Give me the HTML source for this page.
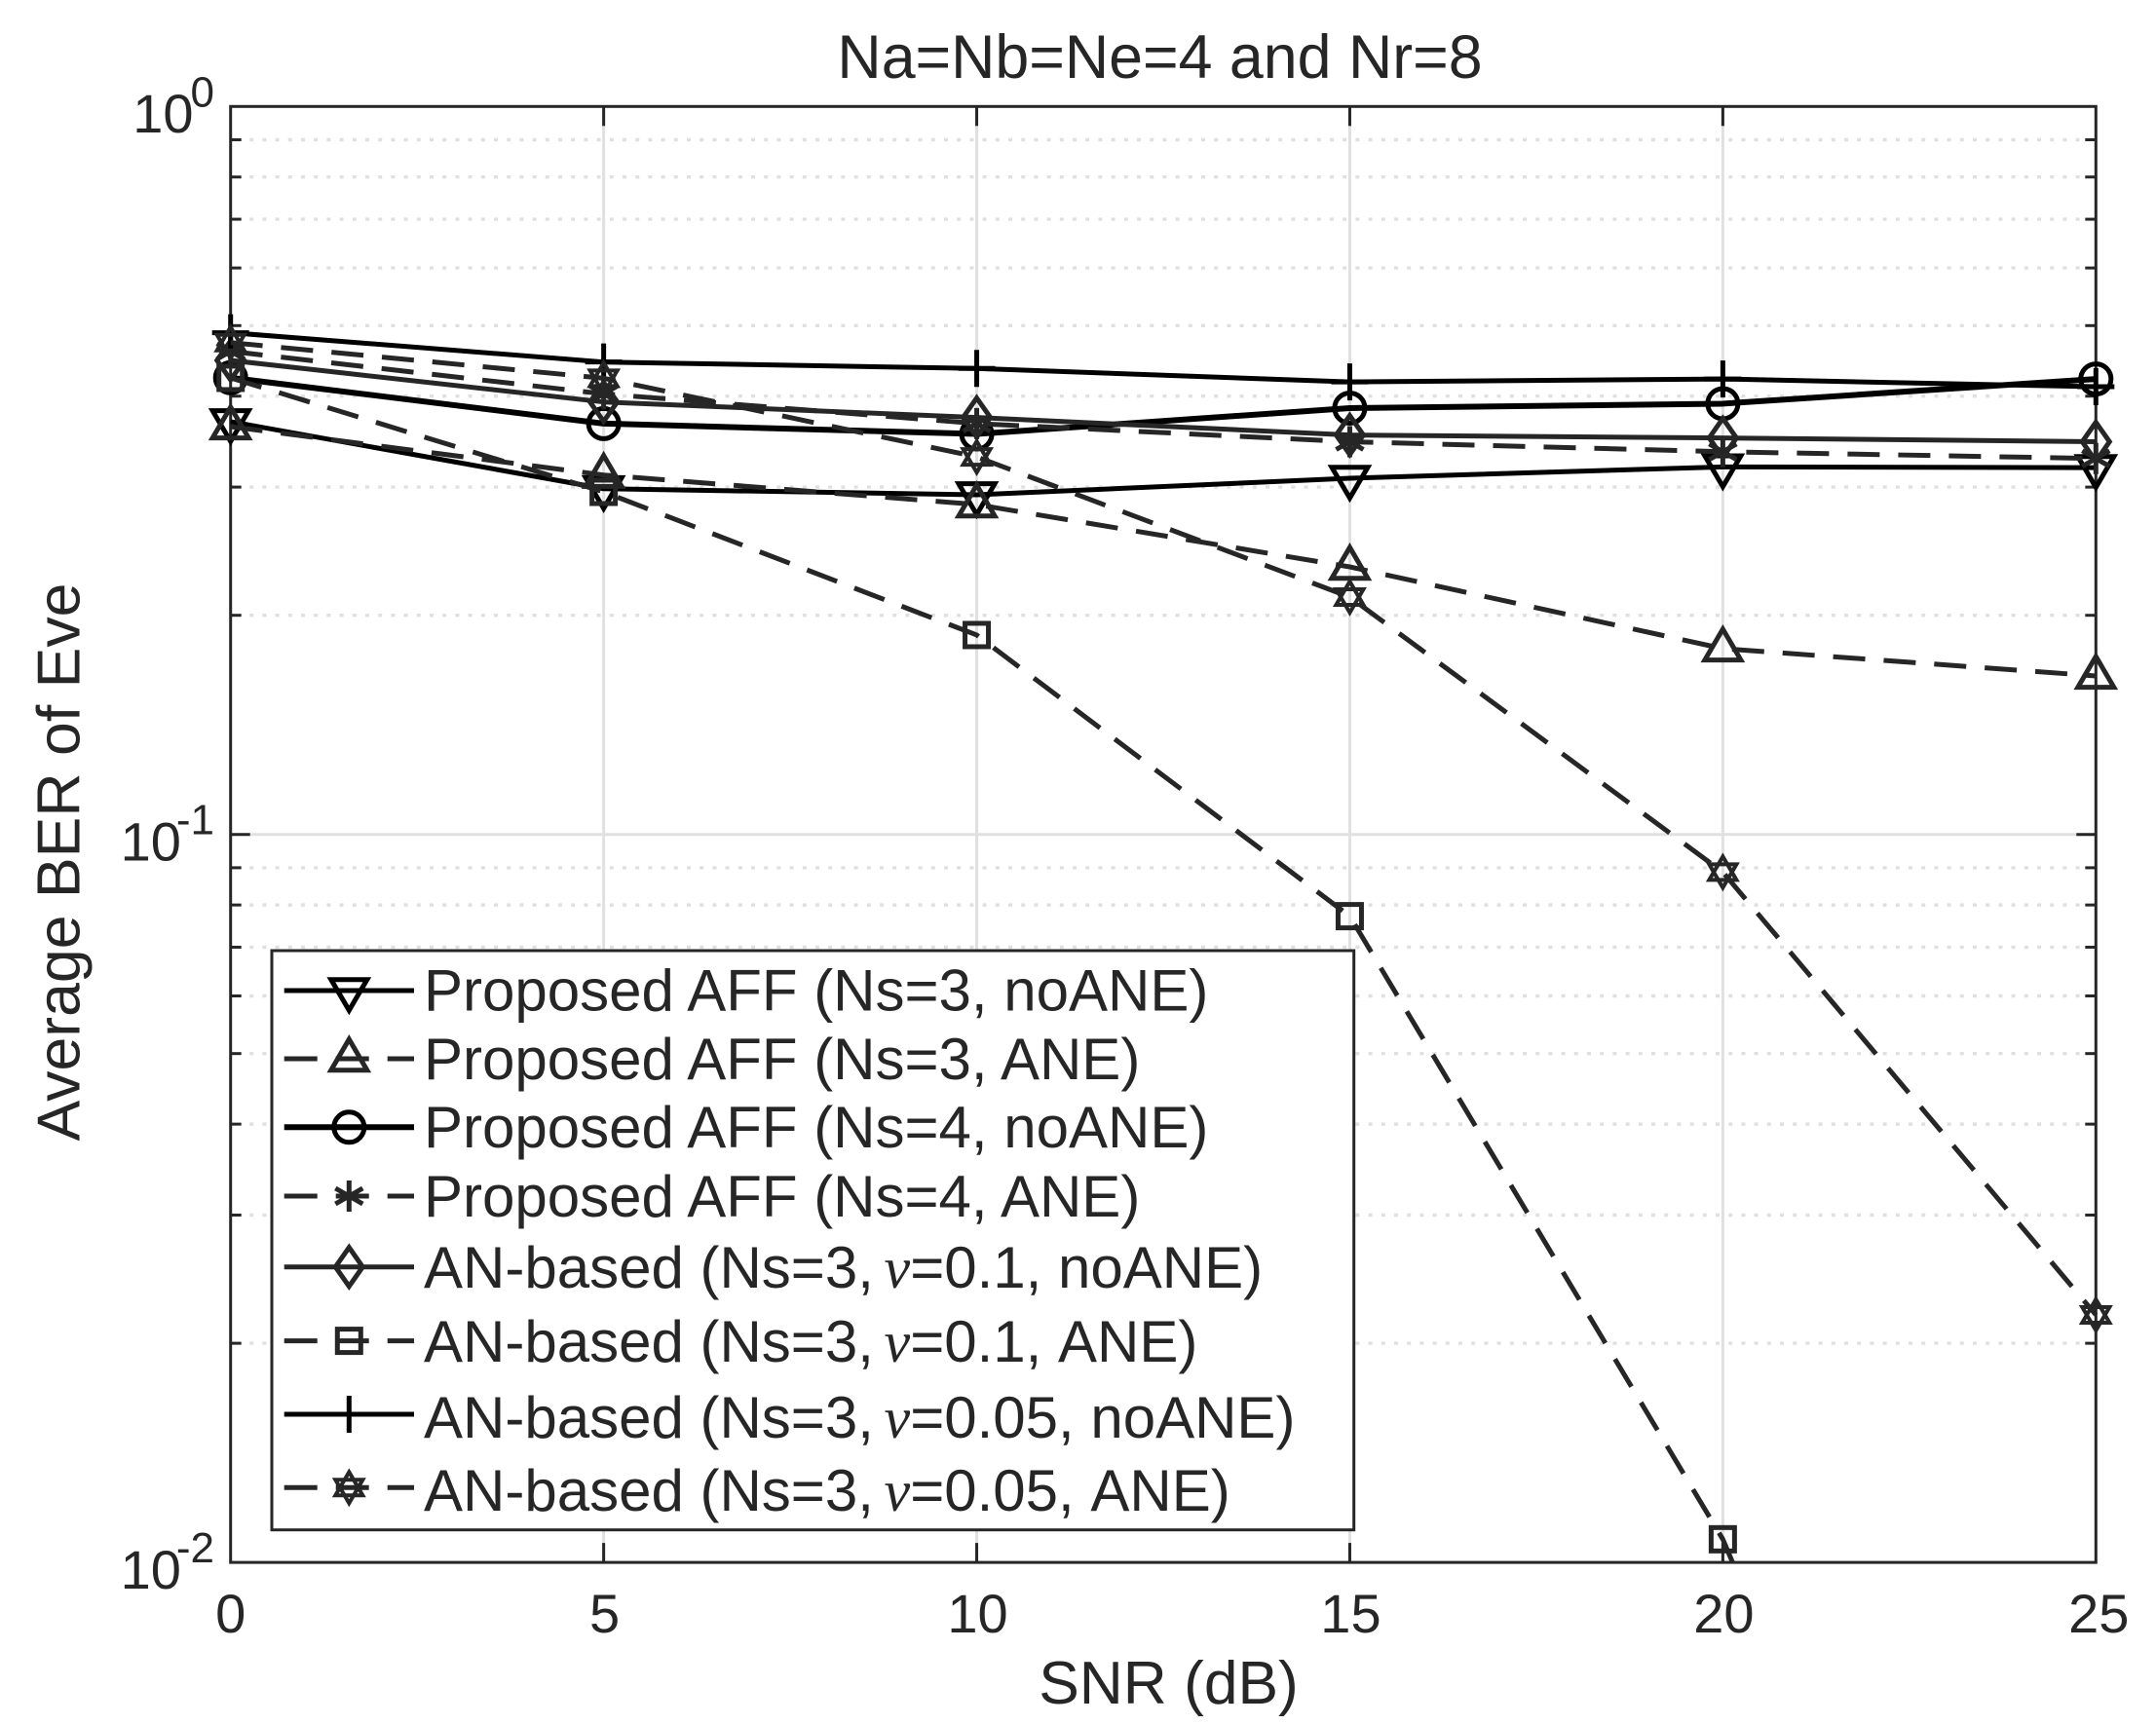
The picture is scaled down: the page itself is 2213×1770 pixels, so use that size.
<!DOCTYPE html>
<html lang="en">
<head>
<meta charset="utf-8">
<title>Average BER of Eve</title>
<style>
html,body{margin:0;padding:0;background:#fff;width:2213px;height:1770px;overflow:hidden;}
svg{display:block;}
text{font-family:"Liberation Sans",sans-serif;fill:#262626;}
.nu{font-family:"Liberation Serif",serif;font-style:italic;}
</style>
</head>
<body>
<svg id="chart" xmlns="http://www.w3.org/2000/svg" width="2213" height="1770" viewBox="0 0 2213 1770">
  <rect x="0" y="0" width="2213" height="1770" fill="#ffffff"/>
  <g id="grid"></g>
  <g id="axes"></g>
  <g id="series"></g>
  <text x="1190.5" y="80" font-size="62.7" text-anchor="middle">Na=Nb=Ne=4 and Nr=8</text>
  <text x="1199.5" y="1749" font-size="62.3" text-anchor="middle">SNR (dB)</text>
  <text transform="translate(81.7 885) rotate(-90)" font-size="62.6" text-anchor="middle">Average BER of Eve</text>
  <g id="legend">
    <rect x="279" y="976" width="1110.7" height="594.7" fill="#ffffff" stroke="#262626" stroke-width="3"/>
    <g id="legend-keys"></g>
    <g font-size="60">
      <text x="435" y="1037.7">Proposed AFF (Ns=3, noANE)</text>
      <text x="435" y="1108">Proposed AFF (Ns=3, ANE)</text>
      <text x="435" y="1178">Proposed AFF (Ns=4, noANE)</text>
      <text x="435" y="1249">Proposed AFF (Ns=4, ANE)</text>
      <text x="435" y="1322">AN-based (Ns=3, <tspan class="nu" dx="-6">ν</tspan>=0.1, noANE)</text>
      <text x="435" y="1398">AN-based (Ns=3, <tspan class="nu" dx="-6">ν</tspan>=0.1, ANE)</text>
      <text x="435" y="1476">AN-based (Ns=3, <tspan class="nu" dx="-6">ν</tspan>=0.05, noANE)</text>
      <text x="435" y="1551">AN-based (Ns=3, <tspan class="nu" dx="-6">ν</tspan>=0.05, ANE)</text>
    </g>
  </g>
</svg>
<script>
var snrValues = [0, 5, 10, 15, 20, 25];
var xTickLabels = ['0', '5', '10', '15', '20', '25'];
var yDecades = [0, -1, -2];
var yMinorFactors = [2, 3, 4, 5, 6, 7, 8, 9];

var berProposedNs3NoAne = [0.3690, 0.2985, 0.2928, 0.3085, 0.3198, 0.3191];
var berProposedNs3Ane = [0.3633, 0.3117, 0.2839, 0.2331, 0.1800, 0.1651];
var berProposedNs4NoAne = [0.4240, 0.3668, 0.3549, 0.3852, 0.3906, 0.4223];
var berProposedNs4Ane = [0.4609, 0.4029, 0.3668, 0.3463, 0.3355, 0.3284];
var berAn01NoAne = [0.4479, 0.3927, 0.3739, 0.3537, 0.3505, 0.3463];
var berAn01Ane = [0.4238, 0.2955, 0.1879, 0.07722, 0.01076, 0.000657];
var berAn005NoAne = [0.4889, 0.4456, 0.4366, 0.4184, 0.4223, 0.4121];
var berAn005Ane = [0.4738, 0.4233, 0.3301, 0.2119, 0.08876, 0.02188];

var NS = 'http://www.w3.org/2000/svg';
var LEFT = 236.7, RIGHT = 2151.3, TOP = 109.3, BOTTOM = 1604.1;
var INK = '#262626', GRID = '#e0e0e0';

function xScale(v) { return LEFT + (v - 0) / (25 - 0) * (RIGHT - LEFT); }
function yScale(v) { return TOP + (0 - Math.log10(v)) / 2 * (BOTTOM - TOP); }

function make(tag, attrs, parent) {
  var el = document.createElementNS(NS, tag);
  for (var k in attrs) { el.setAttribute(k, attrs[k]); }
  parent.appendChild(el);
  return el;
}

var gridLayer = document.getElementById('grid');
var axesLayer = document.getElementById('axes');
var seriesLayer = document.getElementById('series');
var legendKeys = document.getElementById('legend-keys');

/* vertical grid + x ticks + x labels */
snrValues.forEach(function (v, i) {
  var x = xScale(v);
  if (i > 0 && i < snrValues.length - 1) {
    var gl = make('line', {x1: x, x2: x, y1: TOP, y2: BOTTOM, stroke: GRID, 'stroke-width': 3}, gridLayer);
    
    
    var t1 = make('line', {x1: x, x2: x, y1: BOTTOM, y2: BOTTOM - 20, stroke: INK, 'stroke-width': 3}, axesLayer);
    
    
    var t2 = make('line', {x1: x, x2: x, y1: TOP, y2: TOP + 20, stroke: INK, 'stroke-width': 3}, axesLayer);
    
    
  }
  var lab = make('text', {x: x + (i === snrValues.length - 1 ? 3 : (i === 0 ? 0 : 1)), y: 1676, 'font-size': 56, 'text-anchor': 'middle'}, axesLayer);
  
  
  lab.textContent = xTickLabels[i];
});

/* horizontal grid + y ticks */
yDecades.forEach(function (d) {
  var y = yScale(Math.pow(10, d));
  if (d === -1) {
    var gl = make('line', {x1: LEFT, x2: RIGHT, y1: y, y2: y, stroke: GRID, 'stroke-width': 3}, gridLayer);
    
    
    [[LEFT, LEFT + 20], [RIGHT, RIGHT - 20]].forEach(function (p) {
      var t = make('line', {x1: p[0], x2: p[1], y1: y, y2: y, stroke: INK, 'stroke-width': 3}, axesLayer);
      
      
    });
  }
  var lab = make('text', {x: 220, y: y + 26.7, 'font-size': 56, 'text-anchor': 'end'}, axesLayer);
  
  
  var base = make('tspan', {}, lab);
  base.textContent = '10';
  var sup = make('tspan', {dx: d < 0 ? -5 : -3, dy: -26.7, 'font-size': 44}, lab);
  sup.textContent = String(d);

  if (d > -2) {
    yMinorFactors.forEach(function (f) {
      var ym = yScale(f * Math.pow(10, d - 1));
      var ml = make('line', {x1: LEFT + 19.5, x2: RIGHT - 12, y1: ym, y2: ym, stroke: GRID, 'stroke-width': 3.4, 'stroke-dasharray': '4 9.2'}, gridLayer);
      
      
      [[LEFT, LEFT + 11], [RIGHT, RIGHT - 11]].forEach(function (p) {
        var t = make('line', {x1: p[0], x2: p[1], y1: ym, y2: ym, stroke: INK, 'stroke-width': 3}, axesLayer);
        
        
      });
    });
  }
});

var frame = make('rect', {x: LEFT, y: TOP, width: RIGHT - LEFT, height: BOTTOM - TOP, fill: 'none', stroke: INK, 'stroke-width': 3}, axesLayer);



/* marker shapes, relative to centre */
function drawMarker(kind, x, y, color, parent) {
  var sw = kind === 'hexagram' ? 4 : 5;
  var g = make('g', {fill: 'none', stroke: color, 'stroke-width': sw, transform: 'translate(' + x + ' ' + y + ')'}, parent);
  
  
  if (kind === 'triangle-down') make('path', {d: 'M-18.5 -11.3H18.5L0 20.3Z'}, g);
  if (kind === 'triangle-up') make('path', {d: 'M-18.5 11.7H18.5L0 -20Z'}, g);
  if (kind === 'circle') make('circle', {cx: 0, cy: 0, r: 15.5}, g);
  if (kind === 'square') make('rect', {x: -12, y: -12, width: 24, height: 24}, g);
  if (kind === 'diamond') make('path', {d: 'M0 -20L14 0L0 20L-14 0Z'}, g);
  if (kind === 'plus') make('path', {d: 'M0 -19V19M-19 0H19'}, g);
  if (kind === 'asterisk') make('path', {d: 'M0 -16V16M-14 -8L14 8M-14 8L14 -8'}, g);
  if (kind === 'hexagram') {
    make('path', {d: 'M0 -16L14 8H-14Z'}, g);
    make('path', {d: 'M0 16L14 -8H-14Z'}, g);
  }
  return g;
}

/* screen points of a series, stopped where the line leaves through the x-axis */
function linePoints(values) {
  var out = [];
  for (var i = 0; i < values.length; i++) {
    var px = xScale(snrValues[i]), py = yScale(values[i]);
    if (py > BOTTOM) {
      var qx = xScale(snrValues[i - 1]), qy = yScale(values[i - 1]);
      var t = (BOTTOM - qy) / (py - qy);
      out.push((qx + (px - qx) * t).toFixed(2) + ',' + BOTTOM);
      break;
    }
    out.push(px.toFixed(2) + ',' + py.toFixed(2));
  }
  return out.join(' ');
}

var seriesList = [
  {name: 'proposed-ns3-noane', values: berProposedNs3NoAne, marker: 'triangle-down', dashed: false, color: '#000000', width: 5, rowY: 1017},
  {name: 'proposed-ns3-ane', values: berProposedNs3Ane, marker: 'triangle-up', dashed: true, color: INK, width: 5, rowY: 1087},
  {name: 'proposed-ns4-noane', values: berProposedNs4NoAne, marker: 'circle', dashed: false, color: '#000000', width: 6, rowY: 1157.3},
  {name: 'proposed-ns4-ane', values: berProposedNs4Ane, marker: 'asterisk', dashed: true, color: INK, width: 5, rowY: 1228},
  {name: 'an-01-noane', values: berAn01NoAne, marker: 'diamond', dashed: false, color: INK, width: 5, rowY: 1300.7},
  {name: 'an-01-ane', values: berAn01Ane, marker: 'square', dashed: true, color: INK, width: 5, rowY: 1376.6},
  {name: 'an-005-noane', values: berAn005NoAne, marker: 'plus', dashed: false, color: '#000000', width: 5, rowY: 1452},
  {name: 'an-005-ane', values: berAn005Ane, marker: 'hexagram', dashed: true, color: INK, width: 5, rowY: 1527.3}
];

seriesList.forEach(function (s) {
  var attrs = {points: linePoints(s.values), fill: 'none', stroke: s.color, 'stroke-width': s.width, 'stroke-linejoin': 'round'};
  if (s.dashed) attrs['stroke-dasharray'] = '33 19';
  var line = make('polyline', attrs, seriesLayer);
  
  

  s.values.forEach(function (v, i) {
    var py = yScale(v);
    if (py <= BOTTOM) drawMarker(s.marker, xScale(snrValues[i]), py, s.color, seriesLayer);
  });

  var keyAttrs = {x1: 291.7, x2: 425, y1: s.rowY, y2: s.rowY, stroke: s.color, 'stroke-width': s.width};
  if (s.dashed) keyAttrs['stroke-dasharray'] = '34 19';
  var key = make('line', keyAttrs, legendKeys);
  
  
  drawMarker(s.marker, 358.3, s.rowY, s.color, legendKeys);
});
</script>
</body>
</html>
